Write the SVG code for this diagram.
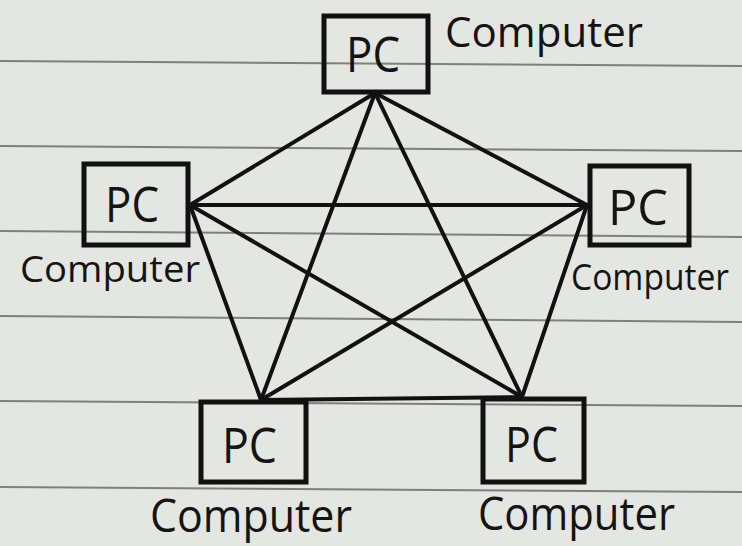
<svg xmlns="http://www.w3.org/2000/svg" width="742" height="546" viewBox="0 0 742 546">
  <defs>
    <style>
      .paper { fill: #e4e6e1; }
      .rule { stroke: #7d807c; stroke-width: 2; fill: none; }
      .box { fill: none; stroke: #111; stroke-width: 5; stroke-linejoin: miter; }
      .link { stroke: #111; stroke-width: 4; stroke-linecap: round; fill: none; }
      .pc { font-family: "Open Sans", "Liberation Sans", sans-serif; font-size: 50px; font-weight: 500; fill: #141414; }
      .cap { font-family: "Open Sans", "Liberation Sans", sans-serif; font-weight: 500; fill: #141414; }
    </style>
  </defs>

  <!-- ruled notebook paper -->
  <rect class="paper" x="0" y="0" width="742" height="546"/>
  <g id="rules">
    <line class="rule" x1="0" y1="61" x2="742" y2="66"/>
    <line class="rule" x1="0" y1="146" x2="742" y2="151"/>
    <line class="rule" x1="0" y1="231" x2="742" y2="237"/>
    <line class="rule" x1="0" y1="316" x2="742" y2="322"/>
    <line class="rule" x1="0" y1="401" x2="742" y2="406"/>
    <line class="rule" x1="0" y1="487" x2="742" y2="492"/>
  </g>

  <!-- full mesh: every computer linked to every other -->
  <g id="connectors">
    <line class="link" x1="375" y1="93" x2="190" y2="205"/>
    <line class="link" x1="375" y1="93" x2="587" y2="205"/>
    <line class="link" x1="375" y1="93" x2="261" y2="400"/>
    <line class="link" x1="375" y1="93" x2="522" y2="397"/>
    <line class="link" x1="190" y1="205" x2="587" y2="205"/>
    <line class="link" x1="190" y1="205" x2="261" y2="400"/>
    <line class="link" x1="190" y1="205" x2="522" y2="397"/>
    <line class="link" x1="587" y1="205" x2="261" y2="400"/>
    <line class="link" x1="587" y1="205" x2="522" y2="397"/>
    <line class="link" x1="261" y1="400" x2="522" y2="397"/>
  </g>

  <g id="pc-top">
    <rect class="box" x="324" y="16" width="104" height="76"/>
    <text class="pc" x="346" y="72" font-size="44" textLength="54" lengthAdjust="spacingAndGlyphs">PC</text>
    <text class="cap" x="445" y="47" font-size="42" textLength="198" lengthAdjust="spacingAndGlyphs">Computer</text>
  </g>

  <g id="pc-left">
    <rect class="box" x="84" y="164" width="104" height="81"/>
    <text class="pc" x="105" y="222" textLength="54" lengthAdjust="spacingAndGlyphs">PC</text>
    <text class="cap" x="20" y="282" font-size="37" textLength="180" lengthAdjust="spacingAndGlyphs">Computer</text>
  </g>

  <g id="pc-right">
    <rect class="box" x="590" y="166" width="99" height="79"/>
    <text class="pc" x="608" y="225" textLength="60" lengthAdjust="spacingAndGlyphs">PC</text>
    <text class="cap" x="571" y="290" font-size="36" textLength="158" lengthAdjust="spacingAndGlyphs">Computer</text>
  </g>

  <g id="pc-bottom-left">
    <rect class="box" x="201" y="402" width="105" height="80"/>
    <text class="pc" x="222" y="463" textLength="55" lengthAdjust="spacingAndGlyphs">PC</text>
    <text class="cap" x="150" y="532" font-size="46" textLength="202" lengthAdjust="spacingAndGlyphs">Computer</text>
  </g>

  <g id="pc-bottom-right">
    <rect class="box" x="483" y="399" width="101" height="83"/>
    <text class="pc" x="505" y="462" textLength="53" lengthAdjust="spacingAndGlyphs">PC</text>
    <text class="cap" x="478" y="530" font-size="46" textLength="197" lengthAdjust="spacingAndGlyphs">Computer</text>
  </g>
</svg>
